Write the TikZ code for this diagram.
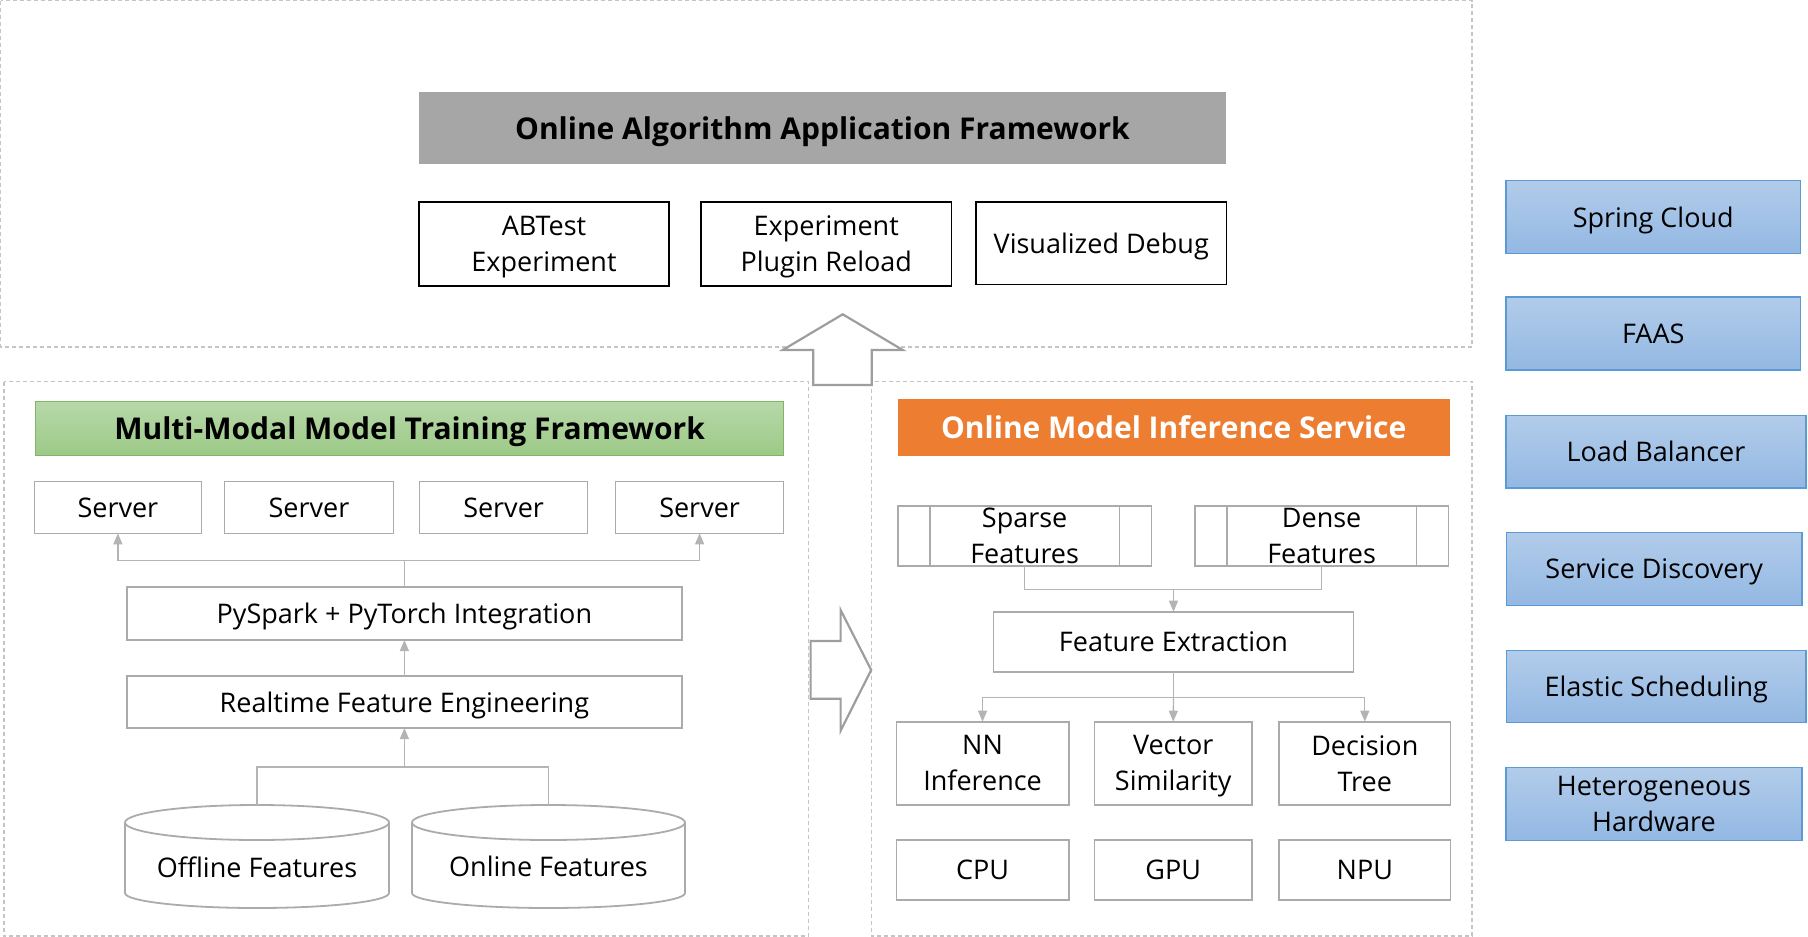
\documentclass[tikz,border=0pt]{standalone}
\usepackage{fontspec}
\setmainfont{Open Sans}
\usetikzlibrary{arrows.meta,calc}
\definecolor{framegray}{HTML}{C4C4C4}
\definecolor{hdrgray}{HTML}{A6A6A6}
\definecolor{boxgray}{HTML}{ABABAB}
\definecolor{conngray}{HTML}{B4B4B4}
\definecolor{greentop}{HTML}{B7D8A9}
\definecolor{greenbot}{HTML}{9DCA87}
\definecolor{greenline}{HTML}{82B366}
\definecolor{orangefill}{HTML}{ED7D31}
\definecolor{bluetop}{HTML}{B2CCEA}
\definecolor{bluebot}{HTML}{93B8E3}
\definecolor{blueline}{HTML}{5B9BD5}
\newcommand\fbody{\fontsize{27pt}{36pt}\selectfont}
\newcommand\ftitle{\fontsize{30pt}{36pt}\selectfont\bfseries}
\tikzset{
  frame/.style={draw=framegray, line width=1.2pt, dash pattern=on 4pt off 3pt},
  base/.style={inner sep=0pt, outer sep=0pt, align=center, font=\fbody, text=black, text depth=0pt},
  blackbox/.style={base, draw=black, line width=1.5pt, fill=white},
  graybox/.style={base, draw=boxgray, line width=1.7pt, fill=white},
  thinbox/.style={base, draw=boxgray, line width=1.3pt, fill=white},
  hdrbox/.style={base, font=\ftitle},
  bluebox/.style={base, draw=blueline, line width=1.5pt, top color=bluetop, bottom color=bluebot},
  line/.style={draw=conngray, line width=1.3pt},
  conn/.style={line, -{Triangle[length=11pt,width=9pt]}},
  hollow/.style={draw=hdrgray!95!black, line width=2.2pt, fill=white, line join=miter},
  cyl/.style={draw=boxgray, line width=1.8pt}
}
\begin{document}
\begin{tikzpicture}[x=1pt,y=-1pt]
\useasboundingbox (0,0) rectangle (1808,937);
% frames
\draw[frame] (0.8,0.8) rectangle (1472,347);
\draw[frame] (4,381.5) rectangle (808.5,936);
\draw[frame] (871.5,381.5) rectangle (1472,936);
% hollow arrows
\draw[hollow] (813.3,385) -- (813.3,350) -- (782.7,350) -- (842.7,314.3) -- (902.7,350) -- (871.7,350) -- (871.7,385) -- cycle;
\draw[hollow] (810.6,641) -- (840.6,641) -- (840.6,610) -- (871.2,670) -- (840.6,730.7) -- (840.6,698.7) -- (810.6,698.7) -- cycle;
% top area
\node[hdrbox, fill=hdrgray, minimum width=807pt, minimum height=72pt] (hdr) at (822.5,128) {Online Algorithm Application Framework};
\node[blackbox, minimum width=250pt, minimum height=84pt] (ab) at (544,244) {ABTest\\Experiment};
\node[blackbox, minimum width=250.5pt, minimum height=84pt] (epr) at (826.25,244) {Experiment\\Plugin Reload};
\node[blackbox, minimum width=250.5pt, minimum height=82.5pt] (vd) at (1101.25,243.25) {Visualized Debug};
% left area
\node[hdrbox, draw=greenline, line width=1.3pt, top color=greentop, bottom color=greenbot, minimum width=747.8pt, minimum height=54.2pt] (train) at (409.6,428.4) {Multi-Modal Model Training Framework};
\node[thinbox, minimum width=166.6pt, minimum height=52pt] (s1) at (117.9,507.3) {Server};
\node[thinbox, minimum width=168.4pt, minimum height=52pt] (s2) at (309,507.3) {Server};
\node[thinbox, minimum width=167.8pt, minimum height=52pt] (s3) at (503.6,507.3) {Server};
\node[thinbox, minimum width=167.8pt, minimum height=52pt] (s4) at (699.6,507.3) {Server};
\node[graybox, minimum width=555.2pt, minimum height=52.7pt] (py) at (404.4,613.65) {PySpark + PyTorch Integration};
\node[graybox, minimum width=555.2pt, minimum height=52.3pt] (rt) at (404.4,701.85) {Realtime Feature Engineering};
\node[base, minimum width=264pt, minimum height=123.4pt] (off) at (257,866.7) {Offline Features};
\node[base, minimum width=273pt, minimum height=123.4pt] (onl) at (548.5,866.7) {Online Features};
\foreach \c/\rx in {off/132,onl/136.5}{
  \draw[cyl] ($(\c.north)+(0,17.5)$) ellipse [x radius=\rx pt, y radius=17.5pt];
  \draw[cyl] ($(\c.north west)+(0,17.5)$) -- ($(\c.north west)+(0,88)$)
     arc[start angle=180, end angle=360, x radius=\rx pt, y radius=15pt]
     -- ($(\c.north east)+(0,17.5)$);
}
\coordinate (sj) at ($(py.north)+(0,-26.6)$);
\draw[line] (py.north) -- (sj);
\draw[conn] (sj) -| (s1.south);
\draw[conn] (sj) -| (s4.south);
\draw[conn] (rt.north) -- (py.south);
\coordinate (cj) at ($(rt.south)+(0,39)$);
\draw[line] (off.north) |- (cj);
\draw[line] (onl.north) |- (cj);
\draw[conn] (cj) -- (rt.south);
% right area
\node[hdrbox, fill=orangefill, text=white, minimum width=551.5pt, minimum height=56.7pt] (inf) at (1173.75,427.35) {Online Model Inference Service};
\node[graybox, minimum width=253.9pt, minimum height=60.6pt] (sp) at (1024.65,536) {Sparse\\Features};
\node[graybox, minimum width=253.9pt, minimum height=60.6pt] (de) at (1321.65,536) {Dense\\Features};
\foreach \c in {sp,de}{
  \draw[draw=boxgray, line width=1.7pt] ($(\c.north west)+(32.2,0)$) -- ($(\c.south west)+(32.2,0)$);
  \draw[draw=boxgray, line width=1.7pt] ($(\c.north east)+(-32.2,0)$) -- ($(\c.south east)+(-32.2,0)$);
}
\node[graybox, minimum width=360pt, minimum height=60.3pt] (fe) at (1173.5,641.85) {Feature Extraction};
\node[graybox, minimum width=172.3pt, minimum height=83.3pt] (nn) at (982.55,763.35) {NN\\Inference};
\node[graybox, minimum width=157.6pt, minimum height=83.3pt] (vs) at (1173.2,763.35) {Vector\\Similarity};
\node[graybox, minimum width=171.6pt, minimum height=83.3pt] (dt) at (1364.8,763.35) {Decision\\Tree};
\node[graybox, minimum width=172.3pt, minimum height=60.3pt] (cpu) at (982.55,869.85) {CPU};
\node[graybox, minimum width=157.6pt, minimum height=60.3pt] (gpu) at (1173.2,869.85) {GPU};
\node[graybox, minimum width=171.6pt, minimum height=60.3pt] (npu) at (1364.8,869.85) {NPU};
\coordinate (fj) at ($(fe.north)+(0,-22.4)$);
\draw[line] (sp.south) |- (fj);
\draw[line] (de.south) |- (fj);
\draw[conn] (fj) -- (fe.north);
\coordinate (mj) at ($(fe.south)+(0,25.3)$);
\draw[line] (fe.south) -- (mj);
\draw[conn] (mj) -| (nn.north);
\draw[conn] (mj) -- (vs.north);
\draw[conn] (mj) -| (dt.north);
% blue column
\node[bluebox, minimum width=294.5pt, minimum height=73pt] (sc) at (1653.25,217) {Spring Cloud};
\node[bluebox, minimum width=294.5pt, minimum height=73pt] (faas) at (1653.25,333.5) {FAAS};
\node[bluebox, minimum width=300pt, minimum height=72.7pt] (lb) at (1656,451.65) {Load Balancer};
\node[bluebox, minimum width=295.5pt, minimum height=73pt] (sd) at (1654.25,568.8) {Service Discovery};
\node[bluebox, minimum width=299.5pt, minimum height=72pt] (es) at (1656.25,686.3) {Elastic Scheduling};
\node[bluebox, minimum width=296.2pt, minimum height=73pt] (hh) at (1653.9,803.8) {Heterogeneous\\Hardware};
\end{tikzpicture}
\end{document}
